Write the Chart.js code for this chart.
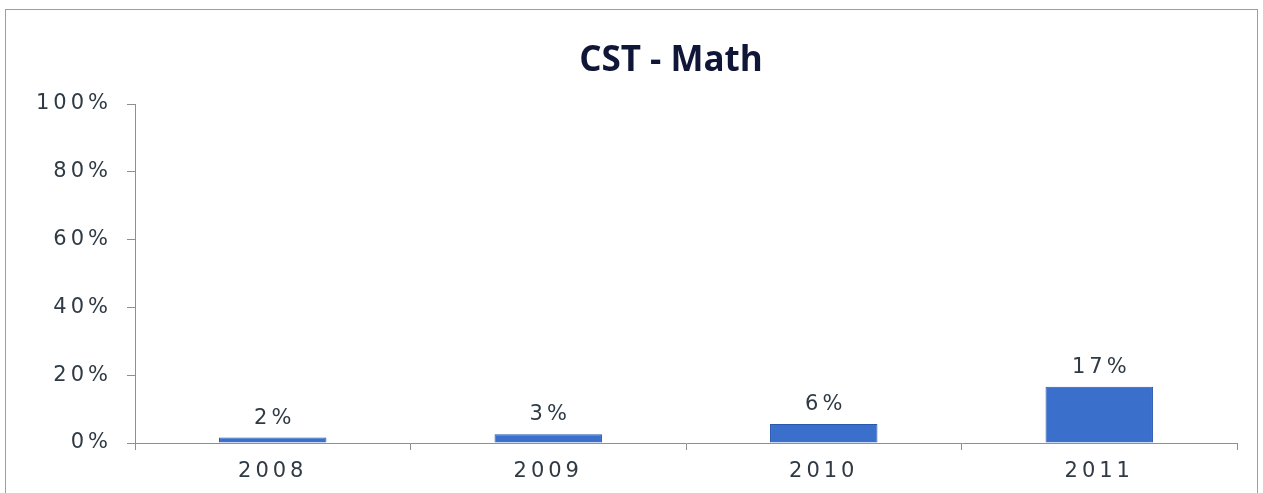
<!DOCTYPE html>
<html>
<head>
<meta charset="utf-8">
<script src="https://cdn.jsdelivr.net/npm/chart.js@4/dist/chart.umd.min.js"></script>
<style>
    html, body { margin: 0; padding: 0; background: #fff; overflow: hidden; }
    #wrap { position: relative; width: 1263px; height: 493px; }
    #frame {
        position: absolute; left: 5px; top: 9px; width: 1253px; height: 500px;
        border: 1px solid #9a9ea6; box-sizing: border-box; pointer-events: none;
    }
</style>
</head>
<body>
<div id="wrap">
    <canvas id="cstMathChart" width="1263" height="493"></canvas>
    <div id="frame"></div>
</div>
<script>
// Datos de la gráfica
const years = ['2008', '2009', '2010', '2011'];
const mathPercent = [1.6, 2.6, 5.6, 16.6];
const yTicks = [0, 20, 40, 60, 80, 100];
const chartTitle = 'CST - Math';

const textColor = '#2f3a44';
const axisColor = '#8c9096';
const spacing = 4;

// Espaciado de letras para las etiquetas y título dibujado a mano
const letterSpacingPlugin = {
    id: 'letterSpacing',
    beforeDraw(chart) {
        chart.ctx.letterSpacing = spacing + 'px';
    },
    afterDraw(chart) {
        const ctx = chart.ctx;
        ctx.save();
        ctx.letterSpacing = '0px';
        ctx.font = 'bold 35px "Open Sans"';
        ctx.fillStyle = '#101638';
        ctx.textAlign = 'center';
        ctx.textBaseline = 'middle';
        ctx.fillText(chartTitle, 671, 61);
        ctx.restore();
        ctx.letterSpacing = '0px';
    }
};

// Etiquetas de valor sobre cada barra
const barLabelsPlugin = {
    id: 'barLabels',
    afterDatasetsDraw(chart) {
        const ctx = chart.ctx;
        const meta = chart.getDatasetMeta(0);
        ctx.save();
        ctx.letterSpacing = spacing + 'px';
        ctx.font = '21px "DejaVu Sans"';
        ctx.fillStyle = textColor;
        ctx.textAlign = 'center';
        ctx.textBaseline = 'bottom';
        meta.data.forEach((bar, i) => {
            ctx.fillText(Math.round(mathPercent[i]) + '%', bar.x + spacing / 2, bar.y - 9);
        });
        ctx.restore();
    }
};

new Chart(document.getElementById('cstMathChart').getContext('2d'), {
    type: 'bar',
    data: {
        labels: years,
        datasets: [{
            data: mathPercent,
            backgroundColor: '#3a6fcb',
            borderColor: '#2a58b0',
            borderWidth: 1,
            categoryPercentage: 1,
            barPercentage: 0.39
        }]
    },
    options: {
        responsive: false,
        animation: false,
        layout: { padding: { left: 0, right: 26, top: 104, bottom: 0 } },
        plugins: {
            legend: { display: false },
            tooltip: { enabled: false },
            title: { display: false }
        },
        scales: {
            x: {
                grid: {
                    display: true,
                    drawOnChartArea: false,
                    tickLength: 7,
                    color: axisColor
                },
                border: { color: axisColor, width: 1 },
                ticks: {
                    color: textColor,
                    font: { family: '"DejaVu Sans"', size: 21 },
                    padding: 9
                },
                afterFit: scale => { scale.height = 50; }
            },
            y: {
                min: 0,
                max: 100,
                afterBuildTicks: scale => {
                    scale.ticks = yTicks.map(v => ({ value: v }));
                },
                grid: {
                    display: true,
                    drawOnChartArea: false,
                    tickLength: 8,
                    color: axisColor
                },
                border: { color: axisColor, width: 1 },
                ticks: {
                    color: textColor,
                    font: { family: '"DejaVu Sans"', size: 21 },
                    padding: 15,
                    callback: value => value + '%'
                },
                afterFit: scale => { scale.width = 135; }
            }
        }
    },
    plugins: [letterSpacingPlugin, barLabelsPlugin]
});
</script>
</body>
</html>
